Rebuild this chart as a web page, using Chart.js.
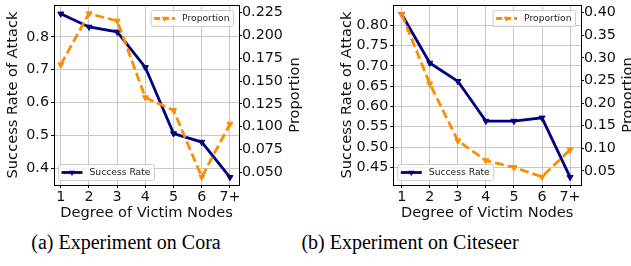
<!DOCTYPE html>
<html>
<head>
<meta charset="utf-8">
<script src="https://cdn.jsdelivr.net/npm/chart.js@4.4.1/dist/chart.umd.min.js"></script>
<style>
  html, body { margin: 0; padding: 0; background: #fff; width: 631px; height: 266px; overflow: hidden; position: relative; }
  canvas { position: absolute; top: 0; }
  .cap { position: absolute; top: 232px; font-family: "Liberation Serif", "Times New Roman", serif; font-size: 20px; line-height: 20px; white-space: nowrap; transform: translateX(-50%); color: #000; }
</style>
</head>
<body>
<canvas id="cora" width="310" height="226" style="left:0"></canvas>
<canvas id="citeseer" width="310" height="226" style="left:330px"></canvas>
<div class="cap" style="left:126px">(a) Experiment on Cora</div>
<div class="cap" style="left:410px">(b) Experiment on Citeseer</div>
<script>
// categories and values
const degrees = ["1", "2", "3", "4", "5", "6", "7+"];

const coraSuccess = [0.870, 0.830, 0.815, 0.707, 0.506, 0.480, 0.373];
const coraProportion = [0.168, 0.224, 0.216, 0.132, 0.118, 0.045, 0.103];
const citeseerSuccess = [0.827, 0.707, 0.662, 0.564, 0.564, 0.572, 0.426];
const citeseerProportion = [0.396, 0.243, 0.117, 0.073, 0.058, 0.037, 0.097];

// tick labels
const coraLeftTicks = ["0.4", "0.5", "0.6", "0.7", "0.8"];
const coraRightTicks = ["0.050", "0.075", "0.100", "0.125", "0.150", "0.175", "0.200", "0.225"];
const citeseerLeftTicks = ["0.45", "0.50", "0.55", "0.60", "0.65", "0.70", "0.75", "0.80"];
const citeseerRightTicks = ["0.05", "0.10", "0.15", "0.20", "0.25", "0.30", "0.35", "0.40"];

const NAVY = "#000080";
const ORANGE = "#ff8c00";
const FONT = "'DejaVu Sans', sans-serif";

// frame, right-hand axis title (reads bottom to top) and the two small legends
const cornerLegends = {
  id: "cornerLegends",
  afterDatasetsDraw(chart, args, opts) {
    const { ctx, chartArea: a } = chart;
    ctx.save();
    ctx.strokeStyle = "#000";
    ctx.lineWidth = 1;
    ctx.strokeRect(Math.round(a.left) + 0.5, Math.round(a.top) + 0.5,
                   Math.round(a.right - a.left), Math.round(a.bottom - a.top));

    // right axis title
    ctx.save();
    ctx.translate(opts.rightTitleX, (a.top + a.bottom) / 2);
    ctx.rotate(-Math.PI / 2);
    ctx.font = "14.6px " + FONT;
    ctx.fillStyle = "#111";
    ctx.textAlign = "center";
    ctx.textBaseline = "middle";
    ctx.fillText("Proportion", 0, 0);
    ctx.restore();

    ctx.font = "9.2px " + FONT;
    const drawItem = (label, color, dash, corner) => {
      const tw = ctx.measureText(label).width;
      const w = 31 + tw + 4, h = 16;
      const x = corner === "tr" ? a.right - 5.5 - w : a.left + 4.5;
      const y = corner === "tr" ? a.top + 5.5 : a.bottom - 4.5 - h;
      ctx.beginPath();
      ctx.roundRect(x, y, w, h, 2);
      ctx.fillStyle = "rgba(255,255,255,0.8)";
      ctx.fill();
      ctx.strokeStyle = "#cccccc";
      ctx.lineWidth = 1;
      ctx.stroke();
      const cy = y + h / 2;
      ctx.strokeStyle = color;
      ctx.lineWidth = 2.8;
      ctx.setLineDash(dash);
      ctx.beginPath();
      ctx.moveTo(x + 3, cy);
      ctx.lineTo(x + 24, cy);
      ctx.stroke();
      ctx.setLineDash([]);
      const mx = x + 13.5, r = 3.5;
      ctx.fillStyle = color;
      ctx.beginPath();
      ctx.moveTo(mx, cy + r);
      ctx.lineTo(mx - r * 0.87, cy - r * 0.5);
      ctx.lineTo(mx + r * 0.87, cy - r * 0.5);
      ctx.closePath();
      ctx.fill();
      ctx.fillStyle = "#222";
      ctx.textBaseline = "middle";
      ctx.fillText(label, x + 31, cy + 0.5);
    };
    drawItem("Proportion", ORANGE, [6, 3], "tr");
    drawItem("Success Rate", NAVY, [], "bl");
    ctx.restore();
  }
};

function fixTicks(labels) {
  return axis => { axis.ticks = labels.map(s => ({ value: parseFloat(s) })); };
}

function makeChart(id, success, proportion, leftTicks, rightTicks, g) {
  const pts = vals => vals.map((v, i) => ({ x: i + 1, y: v }));
  const tickFont = { family: FONT, size: 14.3 };
  const titleFont = { family: FONT, size: 14.6 };
  new Chart(document.getElementById(id), {
    type: "line",
    data: {
      datasets: [
        {
          label: "Success Rate", data: pts(success), yAxisID: "y", order: 1,
          borderColor: NAVY, backgroundColor: NAVY, borderWidth: 2.8,
          pointStyle: "triangle", rotation: 180, pointRadius: 3.5, pointBorderWidth: 1,
          tension: 0, clip: false
        },
        {
          label: "Proportion", data: pts(proportion), yAxisID: "y1", order: 0,
          borderColor: ORANGE, backgroundColor: ORANGE, borderWidth: 2.8, borderDash: [9, 4],
          pointStyle: "triangle", rotation: 180, pointRadius: 3.5, pointBorderWidth: 1,
          tension: 0, clip: false
        }
      ]
    },
    options: {
      responsive: false,
      animation: false,
      devicePixelRatio: 1,
      layout: { padding: { top: g.top, left: 0, right: 0, bottom: 0 } },
      plugins: {
        legend: { display: false },
        tooltip: { enabled: false },
        cornerLegends: { rightTitleX: g.rightTitleX }
      },
      scales: {
        x: {
          type: "linear", position: "bottom", min: g.xMin, max: g.xMax,
          afterBuildTicks: axis => { axis.ticks = degrees.map((d, i) => ({ value: i + 1 })); },
          afterFit: axis => { axis.height = g.xH; axis.paddingLeft = 0; axis.paddingRight = 0; },
          ticks: { font: tickFont, color: "#111", padding: 1, maxRotation: 0, callback: (v, i) => degrees[i] },
          grid: { color: "#c8c8c8", lineWidth: 1, tickColor: "#000", tickLength: 3 },
          border: { display: false },
          title: { display: true, text: "Degree of Victim Nodes", font: titleFont, color: "#111", padding: { top: 0, bottom: g.xPad } }
        },
        y: {
          type: "linear", position: "left", min: g.yMin, max: g.yMax,
          afterBuildTicks: fixTicks(leftTicks),
          afterFit: axis => { axis.width = g.leftW; axis.paddingTop = 0; axis.paddingBottom = 0; },
          ticks: { font: tickFont, color: "#111", padding: 2, callback: (v, i) => leftTicks[i] },
          grid: { color: "#c8c8c8", lineWidth: 1, tickColor: "#000", tickLength: 3 },
          border: { display: false },
          title: { display: true, text: "Success Rate of Attack", font: titleFont, color: "#111", padding: { top: g.leftPad, bottom: 0 } }
        },
        y1: {
          type: "linear", position: "right", min: g.y1Min, max: g.y1Max,
          afterBuildTicks: fixTicks(rightTicks),
          afterFit: axis => { axis.width = g.rightW; axis.paddingTop = 0; axis.paddingBottom = 0; },
          ticks: { font: tickFont, color: "#111", padding: 0, callback: (v, i) => rightTicks[i] },
          grid: { drawOnChartArea: false, tickColor: "#000", tickLength: 3 },
          border: { display: false },
          title: { display: false }
        }
      }
    },
    plugins: [cornerLegends]
  });
}

makeChart("cora", coraSuccess, coraProportion, coraLeftTicks, coraRightTicks, {
  top: 4, xH: 41, leftW: 54, rightW: 71, xMin: 0.76, xMax: 7.32,
  yMin: 0.3495, yMax: 0.8967, y1Min: 0.0362, y1Max: 0.2334,
  xPad: 4, leftPad: 4.6, rightTitleX: 295
});

makeChart("citeseer", citeseerSuccess, citeseerProportion, citeseerLeftTicks, citeseerRightTicks, {
  top: 4, xH: 41, leftW: 63.3, rightW: 59, xMin: 0.70, xMax: 7.39,
  yMin: 0.4067, yMax: 0.8497, y1Min: 0.0190, y1Max: 0.4168,
  xPad: 4, leftPad: 8, rightTitleX: 298
});
</script>
</body>
</html>
